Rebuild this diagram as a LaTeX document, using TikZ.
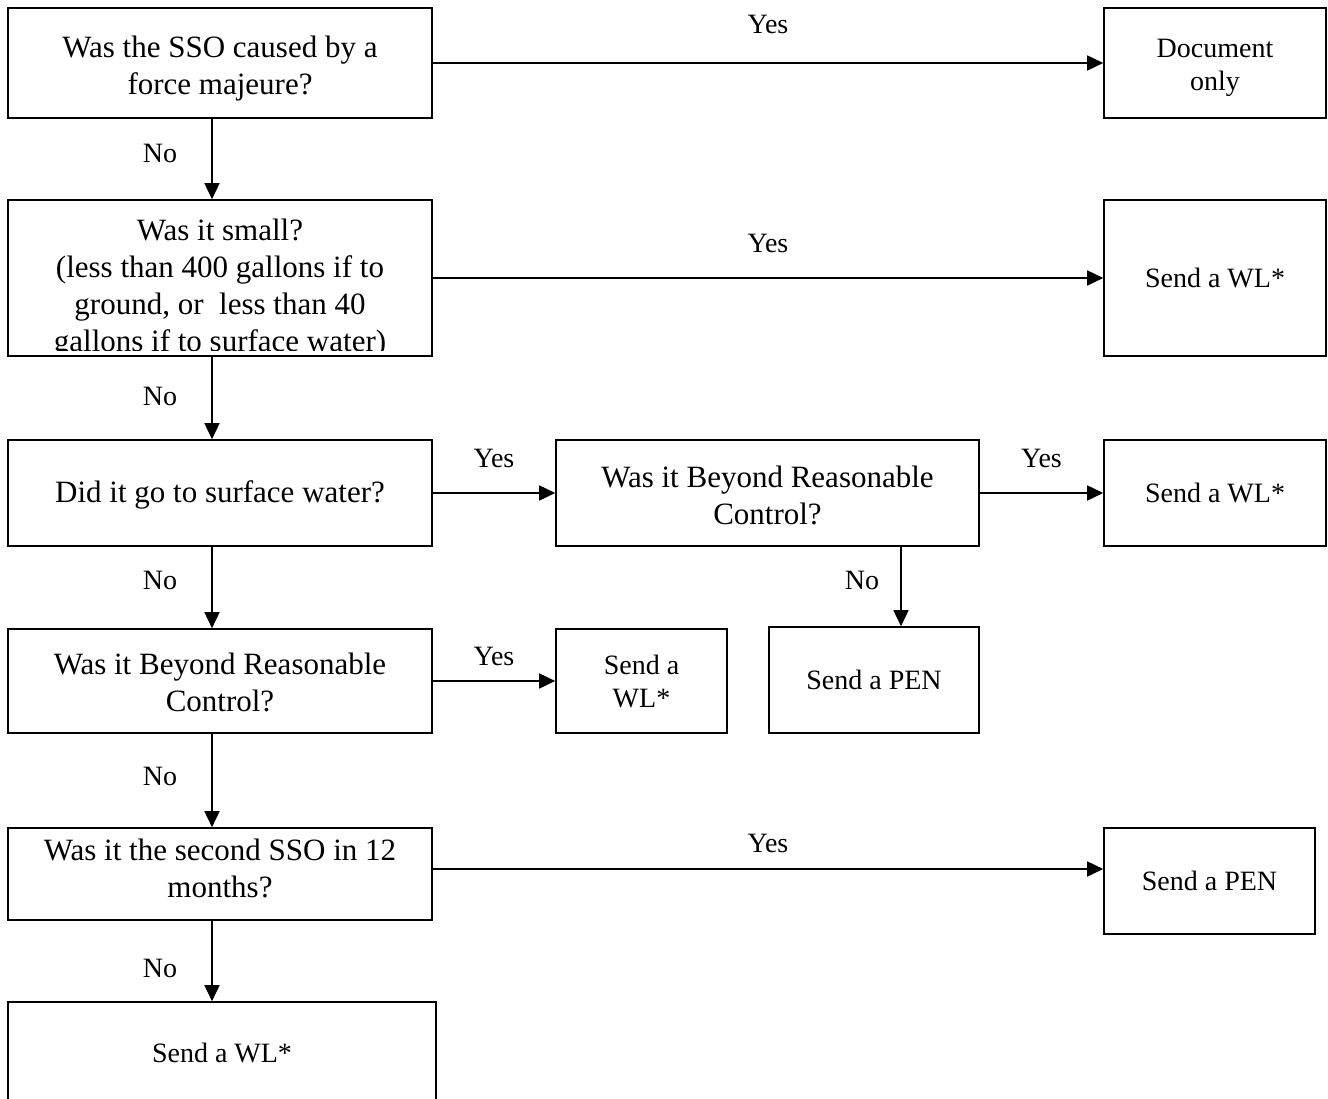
\documentclass[tikz,border=0pt]{standalone}
\usepackage{fontspec}
\setmainfont{Liberation Serif}
\usetikzlibrary{arrows.meta,positioning}

\tikzset{
  qbox/.style={draw, line width=1.6pt, minimum width=424pt, align=center, inner sep=0pt, font=\fontsize{31}{37}\selectfont},
  abox/.style={draw, line width=1.6pt, align=center, inner sep=0pt, font=\fontsize{28}{33}\selectfont},
  flow/.style={-{Triangle[length=16pt,width=15pt]}, line width=1.6pt},
  answer/.style={inner sep=0pt, font=\fontsize{28}{33}\selectfont},
}

\begin{document}
\begin{tikzpicture}[x=1pt,y=-1pt]
  \fill[white] (0,0) rectangle (1328,1099);
  \useasboundingbox (0,0) rectangle (1328,1099);

  % questions, left column
  \node[qbox, minimum height=110pt] (force) at (220,63) {\rule{0pt}{33pt}Was the SSO caused by a\\force majeure?};
  \node[qbox, minimum height=156pt] (small) at (220,278) {};
  \begin{scope}
    \clip (small.north west) rectangle ([yshift=6pt]small.south east);
    \node[align=center, inner sep=0pt, anchor=north, font=\fontsize{31}{37}\selectfont] (smalltext) at (220,219) {Was it small?\\(less than 400 gallons if to\\ground, or\ \ less than 40\\gallons if to surface water)};
  \end{scope}
  \node[qbox, minimum height=106pt] (surface) at (220,493) {\rule{0pt}{25pt}Did it go to surface water?};
  \node[qbox, minimum height=104pt] (beyondl) at (220,681) {\rule{0pt}{25pt}Was it Beyond Reasonable\\Control?};
  \node[qbox, minimum height=92pt] (second) at (220,874) {Was it the second SSO in 12\\months?\rule[-12pt]{0pt}{12pt}};
  \node[abox, minimum width=428pt, minimum height=102pt] (wlfinal) at (222,1053) {Send a WL*};

  % middle
  \node[qbox, minimum width=423pt, minimum height=106pt] (beyondr) at (767.5,493) {\rule{0pt}{26pt}Was it Beyond Reasonable\\Control?};
  \node[abox, minimum width=171pt, minimum height=104pt] (wlmid) at (641.5,681) {Send a\\WL*};
  \node[abox, minimum width=210pt, minimum height=106pt] (penmid) at (874,680) {Send a PEN};

  % outcomes, right column
  \node[abox, minimum width=222pt, minimum height=110pt] (doconly) at (1215,63) {\rule{0pt}{29pt}Document\\only};
  \node[abox, minimum width=222pt, minimum height=156pt] (wlsmall) at (1215,278) {Send a WL*};
  \node[abox, minimum width=222pt, minimum height=106pt] (wlbeyond) at (1215,493) {Send a WL*};
  \node[abox, minimum width=211pt, minimum height=106pt] (penright) at (1209.5,881) {Send a PEN};

  % Yes branches
  \draw[flow] (force) -- (doconly) node[midway, above=28pt, answer] {Yes};
  \draw[flow] (small) -- (wlsmall) node[midway, above=24pt, answer] {Yes};
  \draw[flow] (surface) -- (beyondr) node[midway, above=24pt, answer] {Yes};
  \draw[flow] (beyondr) -- (wlbeyond) node[midway, above=24pt, answer] {Yes};
  \draw[flow] (beyondl) -- (wlmid) node[midway, above=14pt, answer] {Yes};
  \draw[flow] ([yshift=5pt]second.east) -- ([yshift=5pt]second.east -| penright.west) node[midway, above=15pt, answer] {Yes};

  % No branches
  \draw[flow] ([xshift=-8pt]force.south) -- ([xshift=-8pt]force.south |- small.north) node[midway, left=34pt, answer, yshift=6pt] {No};
  \draw[flow] ([xshift=-8pt]small.south) -- ([xshift=-8pt]small.south |- surface.north) node[midway, left=34pt, answer, yshift=2pt] {No};
  \draw[flow] ([xshift=-8pt]surface.south) -- ([xshift=-8pt]surface.south |- beyondl.north) node[midway, left=34pt, answer, yshift=7pt] {No};
  \draw[flow] ([xshift=-8pt]beyondl.south) -- ([xshift=-8pt]beyondl.south |- second.north) node[midway, left=34pt, answer, yshift=4pt] {No};
  \draw[flow] ([xshift=-8pt]second.south) -- ([xshift=-8pt]second.south |- wlfinal.north) node[midway, left=34pt, answer, yshift=-7pt] {No};
  \draw[flow] ([xshift=27pt]penmid.north |- beyondr.south) -- ([xshift=27pt]penmid.north) node[midway, left=21pt, answer, yshift=6pt] {No};
\end{tikzpicture}
\end{document}
